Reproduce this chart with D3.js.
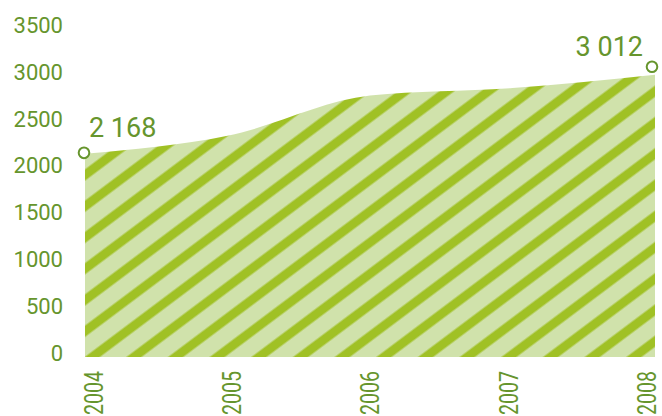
<!DOCTYPE html>
<html>
<head>
<meta charset="utf-8">
<script src="https://cdn.jsdelivr.net/npm/d3@7"></script>
<style>
  html, body { margin: 0; padding: 0; background: #fff; }
  svg { display: block; }
  text { font-family: Roboto, "Noto Sans", sans-serif; fill: #66952d; }
</style>
</head>
<body>
<svg id="chart" width="662" height="416"></svg>
<script>
// ---- data ----
const years = ["2004", "2005", "2006", "2007", "2008"];
const values = [2168, 2360, 2790, 2870, 3012];
const yTicks = [0, 500, 1000, 1500, 2000, 2500, 3000, 3500];
const valueLabels = ["2 168", "3 012"];
const labelledIndex = [0, 4];

// ---- style ----
const textColor = "#66952d";
const darkStripe = "#a0c125";
const lightStripe = "#d0e2ab";

const svg = d3.select("#chart");

const x = d3.scalePoint().domain(years).range([85, 655]);
const y = d3.scaleLinear().domain([0, 3500]).range([357, 29]);

// stripe pattern
const defs = svg.append("defs");
const pat = defs.append("pattern")
  .attr("id", "stripes")
  .attr("patternUnits", "userSpaceOnUse")
  .attr("width", 25).attr("height", 25)
  .attr("patternTransform", "rotate(-36.87)");
pat.append("rect").attr("width", 25).attr("height", 25).attr("fill", lightStripe);
pat.append("rect").attr("y", 11.5).attr("width", 25).attr("height", 9).attr("fill", darkStripe);

const pts = years.map((yr, i) => ({ yr, v: values[i] }));

const area = d3.area()
  .x(d => x(d.yr))
  .y0(y(0))
  .y1(d => y(d.v))
  .curve(d3.curveMonotoneX);

svg.append("path")
  .datum(pts)
  .attr("d", area)
  .attr("fill", "url(#stripes)");

// y axis labels
svg.append("g")
  .selectAll("text")
  .data(yTicks)
  .join("text")
  .attr("x", 63)
  .attr("y", d => y(d) - 4)
  .attr("dy", "0.355em")
  .attr("text-anchor", "end")
  .attr("font-size", 22)
  .text(d => d);

// x axis labels (rotated)
const xl = x.copy().range([93, 646.5]);
svg.append("g")
  .selectAll("text")
  .data(years)
  .join("text")
  .attr("transform", d => `translate(${xl(d) + 9.5},371) rotate(-90)`)
  .attr("text-anchor", "end")
  .attr("font-size", 26)
  .attr("textLength", 44)
  .attr("lengthAdjust", "spacingAndGlyphs")
  .text(d => d);

// markers
const nudges = [[-1, -1], [-3, -8]];
labelledIndex.forEach((idx, k) => {
  const p = pts[idx];
  svg.append("circle")
    .attr("cx", x(p.yr) + nudges[k][0])
    .attr("cy", y(p.v) + nudges[k][1])
    .attr("r", 5.3)
    .attr("fill", "#fff")
    .attr("stroke", textColor)
    .attr("stroke-width", 2);
});

// value labels
svg.append("text")
  .attr("x", x(years[0]) + 4)
  .attr("y", y(values[0]) - 17)
  .attr("font-size", 27)
  .attr("text-anchor", "start")
  .text(valueLabels[0]);

svg.append("text")
  .attr("x", x(years[4]) - 12)
  .attr("y", y(values[4]) - 19)
  .attr("font-size", 27)
  .attr("text-anchor", "end")
  .text(valueLabels[1]);
</script>
</body>
</html>
